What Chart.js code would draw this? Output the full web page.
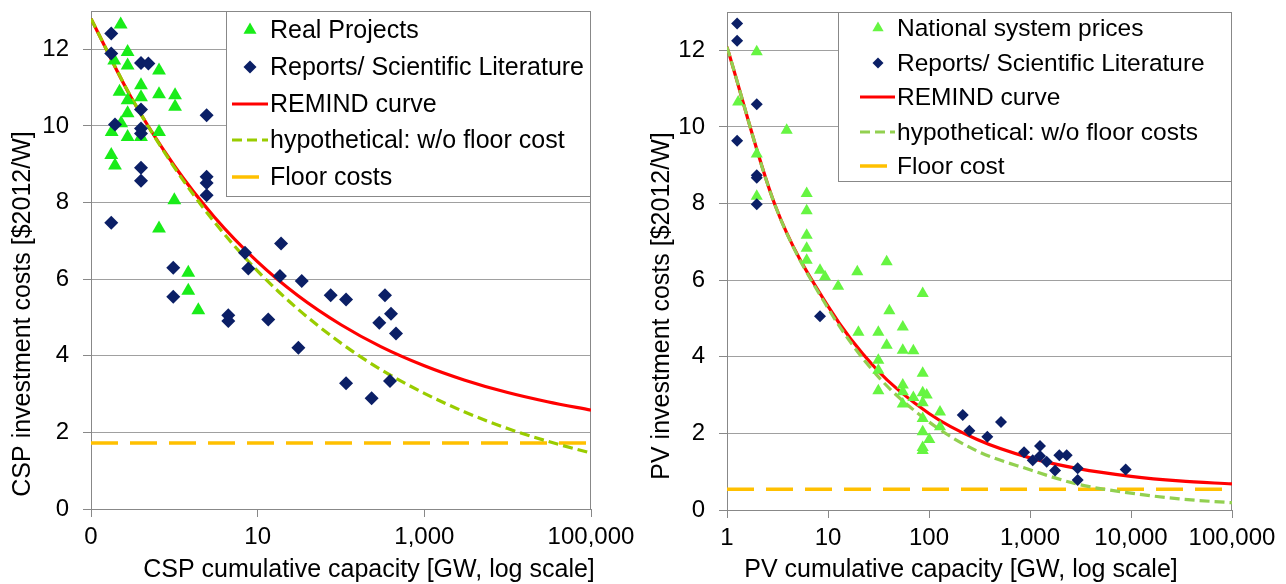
<!DOCTYPE html>
<html><head><meta charset="utf-8">
<script src="https://cdn.jsdelivr.net/npm/chart.js@4.4.1/dist/chart.umd.min.js"></script>
<style>
html,body{margin:0;padding:0;background:#fff;}
#wrap{position:relative;width:1286px;height:584px;overflow:hidden;}
.box{position:absolute;top:0;height:584px;}
canvas{display:block;}
</style></head><body>
<div id="wrap">
<div class="box" style="left:0;width:640px"><canvas id="csp" width="640" height="584"></canvas></div>
<div class="box" style="left:640px;width:646px"><canvas id="pv" width="646" height="584"></canvas></div>
</div>
<script>
// ---------- CSP (left) ----------
const cspXTicks = [0.1, 10, 1000, 100000];
const yTicks = [0, 2, 4, 6, 8, 10, 12];

const cspRealX = [0.227,0.275,0.19,0.275,0.655,0.398,0.22,0.655,1.02,0.398,0.275,1.02,0.275,0.23,0.177,0.275,0.398,0.655,0.175,0.194,1.0,0.655,1.47,1.47,1.94];
const cspRealY = [12.65,11.93,11.71,11.58,11.45,11.06,10.89,10.83,10.80,10.75,10.67,10.50,10.33,10.07,9.84,9.71,9.71,9.84,9.24,8.97,8.06,7.32,6.17,5.70,5.19];

const cspLitX = [0.175,0.175,0.398,0.488,0.398,2.44,0.194,0.398,0.398,0.398,0.398,2.44,2.44,2.44,0.175,0.97,0.97,4.44,4.44,7.05,7.72,19.1,18.5,33.8,75.2,115,337,398,288,457,13.4,30.8,115,233,387];
const cspLitY = [12.41,11.89,11.64,11.63,10.43,10.28,10.04,9.93,9.80,8.91,8.57,8.67,8.51,8.19,7.47,6.30,5.54,5.06,4.91,6.69,6.28,6.93,6.08,5.95,5.58,5.47,5.58,5.10,4.86,4.58,4.95,4.21,3.28,2.89,3.34];

const cspCurveX = [0.1,0.3,1,3,10,30,100,300,1000,3000,10000,30000,100000];
const cspRemind = [12.8,10.76,8.96,7.63,6.45,5.58,4.81,4.24,3.74,3.37,3.04,2.80,2.58];
const cspHypo   = [12.8,10.77,8.92,7.50,6.21,5.23,4.33,3.64,3.02,2.54,2.10,1.77,1.46];
const cspFloorX = [0.1, 100000];
const cspFloor  = [1.72, 1.72];

// ---------- PV (right) ----------
const pvXTicks = [1, 10, 100, 1000, 10000, 100000];

const pvRealX = [1.97,1.29,3.9,1.97,1.97,6.15,6.15,6.15,6.15,6.15,8.33,9.34,12.6,19.5,38.1,86.6,40.5,20.0,31.5,55,38.1,55,70,31.5,31.5,86.6,31.5,55,55,70,86.6,94.9,55,86.6,128.5,86.6,128.5,86.6,100.7,86.6,86.6];
const pvRealY = [11.96,10.65,9.91,9.29,8.19,8.26,7.81,7.17,6.83,6.52,6.26,6.09,5.84,6.22,6.48,5.65,5.20,4.64,4.64,4.78,4.30,4.17,4.16,3.91,3.65,3.57,3.11,3.26,3.09,2.94,3.06,3.00,2.77,2.80,2.56,2.39,2.17,2.04,1.84,1.63,1.55];

const pvLitX = [1.26,1.26,1.97,1.26,1.97,1.97,1.97,8.33,216,251,378,516,873,1064,1256,1256,1463,1770,1950,2307,2966,2966,8855];
const pvLitY = [12.70,12.25,10.59,9.64,8.74,8.67,7.98,5.06,2.48,2.07,1.91,2.30,1.51,1.30,1.67,1.41,1.26,1.03,1.43,1.43,1.09,0.78,1.06];

const pvCurveX = [1,3,10,30,100,300,1000,3000,10000,30000,100000];
const pvRemind = [12.09,7.95,5.32,3.68,2.52,1.84,1.36,1.08,0.88,0.76,0.68];
const pvHypo   = [12.09,7.95,5.27,3.54,2.30,1.54,1.05,0.67,0.44,0.29,0.19];
const pvFloorX = [1, 100000];
const pvFloor  = [0.54, 0.54];

// ---------- helpers ----------
const FONT = "'Liberation Sans', Arial, sans-serif";
Chart.defaults.font.family = FONT;
Chart.defaults.color = '#000';

const zip = (xs, ys) => xs.map((x, i) => ({x: x, y: ys[i]}));

function drawSymbol(ctx, style, x, y, r, color) {
  ctx.save();
  ctx.fillStyle = color;
  ctx.beginPath();
  if (style === 'triangle') {
    for (let k = 0; k < 3; k++) {
      const a = k * 2 * Math.PI / 3;
      const px = x + Math.sin(a) * r, py = y - Math.cos(a) * r;
      if (k === 0) ctx.moveTo(px, py); else ctx.lineTo(px, py);
    }
  } else {
    ctx.moveTo(x, y - r); ctx.lineTo(x + r, y); ctx.lineTo(x, y + r); ctx.lineTo(x - r, y);
  }
  ctx.closePath();
  ctx.fill();
  ctx.restore();
}

const framePlugin = {
  id: 'frame',
  beforeDatasetsDraw(chart) {
    const a = chart.chartArea, ctx = chart.ctx;
    ctx.save();
    ctx.strokeStyle = '#888'; ctx.lineWidth = 1;
    ctx.beginPath();
    const t = Math.round(a.top) + 0.5, r = Math.round(a.right) - 0.5;
    ctx.moveTo(Math.round(a.left), t); ctx.lineTo(r, t); ctx.lineTo(r, Math.round(a.bottom));
    ctx.stroke();
    ctx.restore();
  }
};

const overlayPlugin = {
  id: 'overlay',
  afterDraw(chart, args, opts) {
    const ctx = chart.ctx;
    // legend box
    const L = opts.legend;
    ctx.save();
    ctx.fillStyle = '#fff';
    ctx.fillRect(L.x, L.y, L.w, L.h);
    ctx.strokeStyle = '#888'; ctx.lineWidth = 1;
    ctx.strokeRect(L.x + 0.5, L.y + 0.5, L.w - 1, L.h - 1);
    ctx.font = L.fontSize + 'px ' + FONT;
    ctx.textBaseline = 'middle';
    ctx.textAlign = 'left';
    L.rows.forEach((dsIndex, i) => {
      const ds = chart.data.datasets[dsIndex];
      const y = L.rowY[i];
      if (ds.showLine) {
        ctx.save();
        ctx.strokeStyle = ds.borderColor;
        ctx.lineWidth = ds.borderWidth;
        ctx.setLineDash(ds.borderDash || []);
        ctx.beginPath();
        ctx.moveTo(L.lineX0, y); ctx.lineTo(L.lineX1, y);
        ctx.stroke();
        ctx.restore();
      } else {
        drawSymbol(ctx, ds.pointStyle, L.symX, y, ds.pointStyle === 'triangle' ? L.triR : L.diaR, ds.backgroundColor);
      }
      ctx.fillStyle = '#000';
      ctx.fillText(ds.label, L.textX, y + 1);
    });
    // axis titles
    const T = opts.titles;
    ctx.font = T.fontSize + 'px ' + FONT;
    ctx.fillStyle = '#000';
    ctx.textAlign = 'center';
    ctx.textBaseline = 'middle';
    ctx.fillText(T.xText, T.xX, T.xY);
    ctx.translate(T.yX, T.yY);
    ctx.rotate(-Math.PI / 2);
    ctx.fillText(T.yText, 0, 0);
    ctx.restore();
  }
};

function makeChart(id, spec) {
  const tickFont = {size: 24, family: FONT};
  return new Chart(document.getElementById(id), {
    type: 'scatter',
    data: {
      datasets: [
        {label: spec.labels[0], data: zip(spec.realX, spec.realY), pointStyle: 'triangle', pointRadius: spec.triR,
         backgroundColor: spec.triColor, borderColor: spec.triColor, borderWidth: 0, showLine: false, order: 2},
        {label: spec.labels[1], data: zip(spec.litX, spec.litY), pointStyle: 'rectRot', pointRadius: spec.diaR,
         backgroundColor: '#0B1F66', borderColor: '#0B1F66', borderWidth: 0, showLine: false, order: 1},
        {label: spec.labels[2], data: zip(spec.curveX, spec.remind), showLine: true, pointRadius: 0,
         borderColor: '#FF0000', borderWidth: 3.2, cubicInterpolationMode: 'monotone', order: 4},
        {label: spec.labels[3], data: zip(spec.curveX, spec.hypo), showLine: true, pointRadius: 0,
         borderColor: spec.hypoColor, borderWidth: 3.2, borderDash: [10, 5], cubicInterpolationMode: 'monotone', order: 3},
        {label: spec.labels[4], data: zip(spec.floorX, spec.floor), showLine: true, pointRadius: 0,
         borderColor: '#FFC000', borderWidth: 3.5, borderDash: [27, 12], order: 5}
      ]
    },
    options: {
      responsive: false,
      animation: false,
      events: [],
      layout: {padding: {left: 0, right: spec.padRight, top: spec.padTop, bottom: 0}},
      plugins: {
        legend: {display: false},
        tooltip: {enabled: false},
        overlay: {legend: spec.legend, titles: spec.titles}
      },
      scales: {
        x: {
          type: 'logarithmic', min: spec.xMin, max: 100000,
          afterBuildTicks: s => { s.ticks = spec.xTicks.map(v => ({value: v})); },
          afterFit: s => { s.height = spec.xHeight; s.paddingLeft = 0; s.paddingRight = 0; },
          ticks: {autoSkip: false, maxRotation: 0, minRotation: 0, padding: 6, color: '#000', font: tickFont,
                  callback: v => (v < 1 ? '0' : Number(v).toLocaleString('en-US'))},
          grid: {drawOnChartArea: false, drawTicks: true, tickLength: 8, tickColor: '#888'},
          border: {display: true, color: '#888', width: 1},
          title: {display: false}
        },
        y: {
          type: 'linear', min: 0, max: 13,
          afterBuildTicks: s => { s.ticks = yTicks.map(v => ({value: v})); },
          afterFit: s => { s.width = spec.yWidth; s.paddingTop = 0; s.paddingBottom = 0; },
          ticks: {padding: 14, color: '#000', font: tickFont},
          grid: {color: '#a0a0a0', lineWidth: 1, drawTicks: true, tickLength: 8, tickColor: '#888'},
          border: {display: true, color: '#888', width: 1},
          title: {display: false}
        }
      }
    },
    plugins: [framePlugin, overlayPlugin]
  });
}

makeChart('csp', {
  labels: ['Real Projects', 'Reports/ Scientific Literature', 'REMIND curve', 'hypothetical: w/o floor cost', 'Floor costs'],
  realX: cspRealX, realY: cspRealY, litX: cspLitX, litY: cspLitY,
  curveX: cspCurveX, remind: cspRemind, hypo: cspHypo, floorX: cspFloorX, floor: cspFloor,
  xTicks: cspXTicks, xMin: 0.1,
  triR: 8, diaR: 7, triColor: '#19EC19', hypoColor: '#99CC00',
  padRight: 49, padTop: 11, xHeight: 75, yWidth: 91,
  legend: {x: 226, y: 11, w: 365, h: 186, rows: [0, 1, 2, 3, 4], rowY: [30, 67, 104, 140, 177],
           symX: 250, lineX0: 232, lineX1: 268, textX: 270, fontSize: 25, triR: 7.5, diaR: 6.5},
  titles: {fontSize: 25, xText: 'CSP cumulative capacity [GW, log scale]', xX: 369, xY: 570,
           yText: 'CSP investment costs [$2012/W]', yX: 23, yY: 314}
});

makeChart('pv', {
  labels: ['National system prices', 'Reports/ Scientific Literature', 'REMIND curve', 'hypothetical: w/o floor costs', 'Floor cost'],
  realX: pvRealX, realY: pvRealY, litX: pvLitX, litY: pvLitY,
  curveX: pvCurveX, remind: pvRemind, hypo: pvHypo, floorX: pvFloorX, floor: pvFloor,
  xTicks: pvXTicks, xMin: 1,
  triR: 7, diaR: 6, triColor: '#66F542', hypoColor: '#92D050',
  padRight: 54, padTop: 12, xHeight: 74, yWidth: 87,
  legend: {x: 198, y: 12, w: 394, h: 170, rows: [0, 1, 2, 3, 4], rowY: [28, 63, 97, 132, 166],
           symX: 238, lineX0: 220, lineX1: 255, textX: 257, fontSize: 24.5, triR: 6.5, diaR: 5.5},
  titles: {fontSize: 25, xText: 'PV cumulative capacity [GW, log scale]', xX: 321, xY: 570,
           yText: 'PV investment costs [$2012/W]', yX: 22, yY: 306}
});
</script>
</body></html>
